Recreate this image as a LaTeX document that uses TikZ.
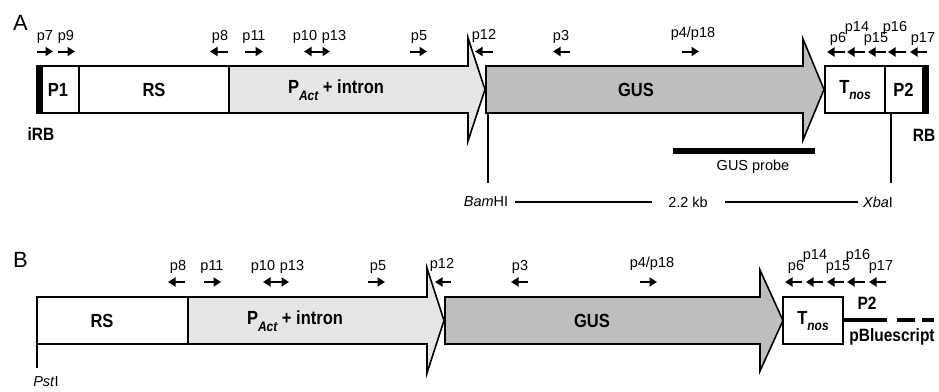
\documentclass[tikz,border=0pt]{standalone}
\usepackage{graphicx}
\usepackage{fontspec}
\setmainfont{Liberation Sans}
\usetikzlibrary{arrows.meta}
\definecolor{actgray}{HTML}{E6E6E6}
\definecolor{gusgray}{HTML}{BEBEBE}
\newcommand\subit[1]{\raisebox{-0.34em}{\fontsize{12}{12}\selectfont\itshape #1}}
\newcommand\tall[1]{\scalebox{1}[1.15]{#1}}
\begin{document}
\begin{tikzpicture}[x=1pt,y=-1pt,
  outl/.style={draw=black,line width=1.6pt},
  box/.style={draw=black,line width=1.6pt,fill=white,outer sep=0pt,inner sep=0pt,minimum height=47pt,anchor=north west},
  blab/.style={font=\fontsize{16.5}{16}\selectfont\bfseries,inner sep=0pt},
  slab/.style={font=\fontsize{15.5}{15}\selectfont\bfseries,inner sep=0pt},
  plab/.style={font=\fontsize{14.5}{14}\selectfont,inner sep=0pt},
  panel/.style={font=\fontsize{22}{22}\selectfont,inner sep=0pt},
  fwd/.style={line width=2pt,-{Triangle[length=7.5pt,width=9pt]}},
  both/.style={line width=2pt,{Triangle[length=7.5pt,width=9pt]}-{Triangle[length=7.5pt,width=9pt]}},
  site/.style={line width=1.6pt},
  ruler/.style={line width=1.4pt},
]
\useasboundingbox (0,0) rectangle (939,391);

% ================= Panel A =================
\node[panel] (labA) at (20.5,22.5) {A};

% primers A
\node[plab] (p7A) at (45,37) {p7};   \draw[fwd] (37,51.5) -- (53,51.5);
\node[plab] (p9A) at (66,37) {p9};   \draw[fwd] (58,51.5) -- (75,51.5);
\node[plab] (p8A) at (220,37) {p8};  \draw[fwd] (228,51.5) -- (210,51.5);
\node[plab] (p11A) at (254,37) {p11}; \draw[fwd] (245,51.5) -- (263,51.5);
\node[plab] (p10A) at (305,37) {p10};
\node[plab] (p13A) at (334,37) {p13}; \draw[both] (304,51.5) -- (330,51.5);
\node[plab] (p5A) at (419,37) {p5};  \draw[fwd] (410,51.5) -- (427,51.5);
\node[plab] (p12A) at (484,36) {p12}; \draw[fwd] (493,51.5) -- (475,51.5);
\node[plab] (p3A) at (561,37) {p3};  \draw[fwd] (570,51.5) -- (553,51.5);
\node[plab] (p4A) at (693,34) {p4/p18}; \draw[fwd] (682,51.5) -- (699,51.5);
\node[plab] (p6A) at (838,39) {p6};   \draw[fwd] (845,52) -- (827,52);
\node[plab] (p14A) at (857,28) {p14}; \draw[fwd] (865,52) -- (847,52);
\node[plab] (p15A) at (876,39) {p15}; \draw[fwd] (886,52) -- (868,52);
\node[plab] (p16A) at (895,28) {p16}; \draw[fwd] (906,52) -- (888,52);
\node[plab] (p17A) at (923,39) {p17}; \draw[fwd] (927,52) -- (910,52);

% boxes A
\node[box,minimum width=42pt] (p1A) at (37,66) {};
\node[blab] at (58,89.5) {\tall{P1}};
\node[box,minimum width=150pt] (rsA) at (79,66) {};
\node[blab] at (154,89.5) {\tall{RS}};
\draw[outl,fill=actgray] (229,66) -- (468,66) -- (468,38) -- (485,89.5) -- (468,141) -- (468,113) -- (229,113) -- cycle;
\node[blab] (actA) at (336,90) {\tall{P\subit{Act} + intron}};
\draw[outl,fill=gusgray] (486,66) -- (803,66) -- (803,39) -- (824,89.5) -- (803,140) -- (803,113) -- (486,113) -- cycle;
\node[blab] (gusA) at (636,89.5) {\tall{GUS}};
\node[box,minimum width=60pt] (tnosA) at (825,66) {};
\node[blab] at (855,90) {\tall{T\subit{nos}}};
\node[box,minimum width=43pt] (p2A) at (885,66) {};
\node[blab] at (903.5,89.5) {\tall{P2}};
\fill (36.2,66.8) rectangle (43,112.2);
\fill (922,66.8) rectangle (928.8,112.2);

\node[slab] (iRB) at (41,134) {\tall{iRB}};
\node[slab] (RB) at (924,135) {\tall{RB}};

% restriction sites A
\coordinate (bamtop) at (488,113.8);
\coordinate (bambot) at (488,183);
\coordinate (xbatop) at (891,113.8);
\coordinate (xbabot) at (891,183);
\draw[site] (bamtop) -- (bambot);
\draw[site] (xbatop) -- (xbabot);

% probe
\coordinate (prl) at (673,151);
\coordinate (prr) at (815,151);
\draw[line width=5.5pt] (prl) -- (prr);
\node[plab] (probe) at (753,166.5) {GUS probe};

% ruler
\node[plab] (bamt) at (486,202) {\textit{Bam}HI};
\node[plab] (kb) at (688,202.5) {2.2 kb};
\node[plab] (xbat) at (878,202) {\textit{Xba}I};
\draw[ruler] (515,202) -- (652,202);
\draw[ruler] (725,202) -- (858,202);

% ================= Panel B =================
\node[panel] (labB) at (20.5,260) {B};

\node[plab] (p8B) at (178,267) {p8};   \draw[fwd] (185,282) -- (168,282);
\node[plab] (p11B) at (212,267) {p11}; \draw[fwd] (204,282) -- (221,282);
\node[plab] (p10B) at (263,267) {p10};
\node[plab] (p13B) at (292,267) {p13}; \draw[both] (263,282) -- (289,282);
\node[plab] (p5B) at (378,267) {p5};   \draw[fwd] (368,282) -- (385,282);
\node[plab] (p12B) at (442,265) {p12}; \draw[fwd] (451,282) -- (435,282);
\node[plab] (p3B) at (520,267) {p3};   \draw[fwd] (528,282) -- (511,282);
\node[plab] (p4B) at (652,264) {p4/p18}; \draw[fwd] (640,282) -- (657,282);
\node[plab] (p6B) at (796,267) {p6};   \draw[fwd] (802,282) -- (785,282);
\node[plab] (p14B) at (815,256) {p14}; \draw[fwd] (823,282) -- (806,282);
\node[plab] (p15B) at (838,267) {p15}; \draw[fwd] (844,282) -- (827,282);
\node[plab] (p16B) at (858,256) {p16}; \draw[fwd] (865,282) -- (847,282);
\node[plab] (p17B) at (881,267) {p17}; \draw[fwd] (886,282) -- (869,282);

\node[box,minimum width=151pt] (rsB) at (37,297) {};
\node[blab] at (102,320.5) {\tall{RS}};
\draw[outl,fill=actgray] (188,297) -- (427,297) -- (427,268) -- (444,320.5) -- (427,373) -- (427,344) -- (188,344) -- cycle;
\node[blab] (actB) at (295,321) {\tall{P\subit{Act} + intron}};
\draw[outl,fill=gusgray] (445,297) -- (760,297) -- (760,270) -- (783,320.5) -- (760,371) -- (760,344) -- (445,344) -- cycle;
\node[blab] (gusB) at (592,320.5) {\tall{GUS}};
\node[box,minimum width=60pt] (tnosB) at (783,297) {};
\node[blab] at (813,321) {\tall{T\subit{nos}}};

\coordinate (vecA) at (843,320);
\coordinate (vecB) at (887,320);
\coordinate (vecC) at (897,320);
\coordinate (vecD) at (934,320);
\draw[line width=3.8pt] (vecA) -- (vecB);
\draw[line width=3.8pt,dash pattern=on 18pt off 7pt] (vecC) -- (vecD);
\node[slab] (p2B) at (867,303) {\tall{P2}};
\node[slab] (pbs) at (892,337) {\tall{pBluescript}};

\coordinate (psttop) at (37,344.8);
\coordinate (pstbot) at (37,368);
\draw[site] (psttop) -- (pstbot);
\node[plab] (pst) at (46,381.5) {\textit{Pst}I};
\end{tikzpicture}
\end{document}
